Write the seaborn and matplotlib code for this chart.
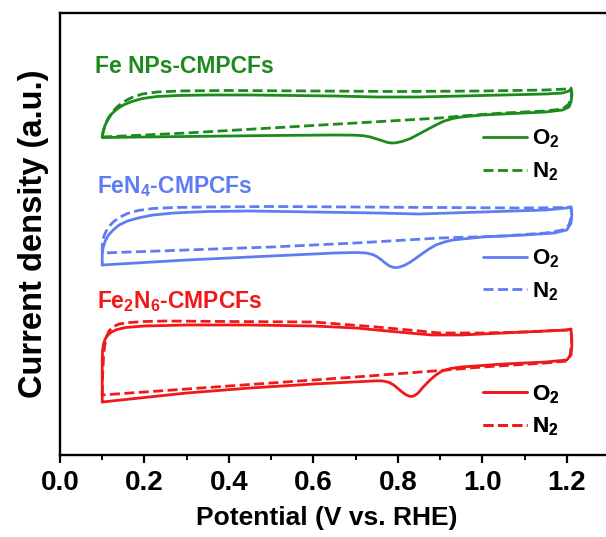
import numpy as np
import matplotlib
matplotlib.use("Agg")
import matplotlib.pyplot as plt
import seaborn as sns
from matplotlib.ticker import MultipleLocator

# Cyclic voltammograms (potential in V vs. RHE, current density in a.u.)
# Each loop: anodic sweep from 0.1 V to 1.21 V, then cathodic sweep back.
fenps_o2_v = [0.100, 0.102, 0.106, 0.113, 0.122, 0.135, 0.150, 0.170, 0.195, 0.230, 0.280, 0.350,
              0.450, 0.550, 0.650, 0.750, 0.850, 0.950, 1.050, 1.150, 1.190, 1.205, 1.210, 1.212,
              1.210, 1.205, 1.190, 1.150, 1.050, 1.000, 0.950, 0.930, 0.910, 0.890, 0.870, 0.850,
              0.830, 0.810, 0.795, 0.785, 0.775, 0.765, 0.750, 0.735, 0.720, 0.700, 0.650, 0.500,
              0.300, 0.100]
fenps_o2_j = [318, 323, 329, 335, 341, 346, 350, 353.5, 356.5, 358.5, 359.5, 360,
              360, 359.5, 359, 358, 358, 359, 360, 361, 362, 364, 366, 360,
              353, 348, 345, 343, 341, 340, 338, 336.5, 334, 330, 325.5, 321,
              316.5, 313.5, 312.2, 312, 312.6, 314, 316, 318, 319.2, 319.8, 320, 319.5,
              318.5, 317.5]
fenps_n2_v = [0.100, 0.102, 0.106, 0.113, 0.122, 0.135, 0.150, 0.170, 0.195, 0.230, 0.280, 0.400,
              0.600, 0.800, 1.000, 1.150, 1.200, 1.210, 1.212, 1.205, 1.190, 1.150, 1.050, 0.950,
              0.900, 0.700, 0.500, 0.300, 0.100]
fenps_n2_j = [318, 323, 329, 336, 342, 348, 353, 357.5, 361, 363, 364, 364.5,
              364, 363.5, 364, 365, 366, 367, 361, 351, 346, 344, 342, 339,
              337, 332, 327, 322, 318]

fen4_o2_v = [0.100, 0.100, 0.102, 0.107, 0.115, 0.126, 0.140, 0.160, 0.185, 0.220, 0.270, 0.350,
             0.450, 0.600, 0.750, 0.850, 1.000, 1.150, 1.200, 1.210, 1.212, 1.210, 1.200, 1.170,
             1.100, 1.000, 0.930, 0.910, 0.890, 0.870, 0.850, 0.830, 0.815, 0.800, 0.790, 0.780,
             0.770, 0.760, 0.750, 0.740, 0.725, 0.700, 0.650, 0.500, 0.300, 0.100]
fen4_o2_j = [190, 200, 207, 214, 220, 225, 230, 234, 237, 240, 242, 243.5,
             244, 243, 242, 241, 243, 245, 247, 248, 240, 232, 225, 222,
             220, 218, 215, 213, 210, 205, 199, 193, 189.5, 187.5, 187.5, 189,
             192, 195.5, 198.5, 200.5, 202, 202.5, 202, 199, 195, 190]
fen4_n2_v = [0.100, 0.100, 0.102, 0.107, 0.115, 0.126, 0.140, 0.160, 0.185, 0.220, 0.270, 0.350,
             0.500, 0.700, 0.900, 1.100, 1.200, 1.210, 1.212, 1.205, 1.190, 1.150, 1.050, 0.900,
             0.700, 0.500, 0.300, 0.100]
fen4_n2_j = [202, 210, 216, 222, 228, 233, 237.5, 241.5, 244.5, 246.5, 247.5, 248,
             248.5, 248, 247.5, 247, 247.5, 248, 240, 230, 225, 222, 219, 217,
             212, 208, 205, 202]

fe2n6_o2_v = [0.100, 0.100, 0.100, 0.101, 0.103, 0.107, 0.113, 0.122, 0.135, 0.155, 0.200, 0.300,
              0.450, 0.600, 0.700, 0.800, 0.880, 0.950, 1.050, 1.150, 1.200, 1.210, 1.212, 1.210,
              1.200, 1.150, 1.050, 0.950, 0.925, 0.905, 0.890, 0.875, 0.860, 0.848, 0.838, 0.830,
              0.820, 0.810, 0.800, 0.790, 0.780, 0.765, 0.750, 0.600, 0.450, 0.300, 0.100]
fe2n6_o2_j = [53, 75, 95, 105, 111, 116, 120, 123, 125.5, 127.5, 129, 130,
              130, 129, 127, 123, 120, 120, 122, 124, 125, 126, 110, 100,
              95, 93, 91, 88, 86.5, 84, 80, 74.5, 68, 62, 59, 58.5,
              60, 63, 66.5, 70, 72.5, 74, 74.2, 71, 67, 62, 53]
fe2n6_n2_v = [0.100, 0.101, 0.103, 0.106, 0.110, 0.116, 0.125, 0.140, 0.165, 0.200, 0.250, 0.400,
              0.600, 0.750, 0.900, 1.000, 1.100, 1.200, 1.210, 1.212, 1.208, 1.200, 1.150, 1.000,
              0.915, 0.700, 0.500, 0.300, 0.100]
fe2n6_n2_j = [60, 80, 98, 110, 118, 124, 128, 131, 132.5, 133.5, 134, 133.5,
              133, 128, 122, 122, 123, 125, 126, 115, 100, 94, 92, 88,
              85, 78, 72, 66, 60]

samples = ["Fe NPs-CMPCFs", "FeN$_4$-CMPCFs", "Fe$_2$N$_6$-CMPCFs"]
colors = ["#1c8a1c", "#5f7df2", "#f01818"]
gas_labels = ["O$_2$", "N$_2$"]
x_ticks = [0.0, 0.2, 0.4, 0.6, 0.8, 1.0, 1.2]

sns.set_theme(style="ticks")
plt.rcParams.update({
    "font.family": ["Liberation Sans", "DejaVu Sans"],
    "font.weight": "bold",
    "text.color": "black",
    "axes.labelcolor": "black",
    "xtick.color": "black",
    "axes.edgecolor": "black",
    "mathtext.fontset": "custom",
    "mathtext.rm": "Liberation Sans:bold",
    "mathtext.bf": "Liberation Sans:bold",
    "mathtext.it": "Liberation Sans:bold",
    "mathtext.default": "bf",
})

fig = plt.figure(figsize=(6.06, 5.37), dpi=100)
ax = fig.add_axes([0.099, 0.1527, 0.906, 0.8231])

curves = [
    (fenps_o2_v, fenps_o2_j, fenps_n2_v, fenps_n2_j),
    (fen4_o2_v, fen4_o2_j, fen4_n2_v, fen4_n2_j),
    (fe2n6_o2_v, fe2n6_o2_j, fe2n6_n2_v, fe2n6_n2_j),
]
label_pos = [(0.083, 382), (0.088, 262), (0.088, 147)]
legend_pos = [0.678, 0.407, 0.100]

for (ov, oj, nv, nj), color, name, (tx, ty), ly in zip(curves, colors, samples, label_pos, legend_pos):
    sns.lineplot(x=ov, y=oj, sort=False, estimator=None, color=color, lw=2.0, ax=ax)
    solid = ax.lines[-1]
    sns.lineplot(x=nv, y=nj, sort=False, estimator=None, color=color, lw=2.0, ax=ax)
    dashed = ax.lines[-1]
    dashed.set_dashes((3.6, 1.6))
    ax.text(tx, ty, name, color=color, fontsize=16.5, fontweight="bold", va="baseline")
    leg = ax.legend([solid, dashed], gas_labels, loc="center left", bbox_to_anchor=(0.770, ly),
                    frameon=False, fontsize=16, handlelength=2.0, handletextpad=0.2,
                    labelspacing=0.45, borderpad=0, borderaxespad=0)
    for t in leg.get_texts():
        t.set_color("black")
    ax.add_artist(leg)

ax.set_xlim(0, 1.3)
ax.set_ylim(0, 442)
ax.set_xticks(x_ticks)
ax.set_xticklabels([f"{t:.1f}" for t in x_ticks])
ax.xaxis.set_minor_locator(MultipleLocator(0.1))
ax.set_yticks([])
ax.tick_params(axis="x", which="major", direction="out", length=6, width=1.6, labelsize=20, pad=5)
ax.tick_params(axis="x", which="minor", direction="out", length=3.5, width=1.4)
for sp in ax.spines.values():
    sp.set_linewidth(1.7)
    sp.set_color("black")
    sp.set_visible(True)
for lab in ax.get_xticklabels():
    lab.set_fontweight("bold")
ax.set_xlabel("Potential (V vs. RHE)", fontsize=19, fontweight="bold")
ax.xaxis.set_label_coords(0.485, -0.115)
ax.set_ylabel("Current density (a.u.)", fontsize=23.5, fontweight="bold", labelpad=8)

fig.savefig("out.png", dpi=100)
